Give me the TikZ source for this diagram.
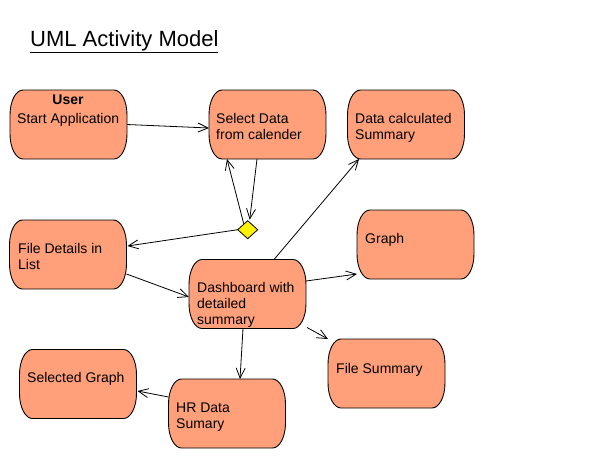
\documentclass[tikz,border=0pt]{standalone}
\usepackage{fontspec}
\setmainfont{Liberation Sans}
\usetikzlibrary{arrows.meta,calc,shapes.geometric}
\definecolor{actfill}{RGB}{255,160,122}
\newcommand\umlact[1]{%
  \draw[shp] ($(#1.north west)+(13,0)$) -- ($(#1.north east)+(-13,0)$)
    arc[start angle=90,end angle=0,x radius=13pt,y radius=25pt]
    -- ($(#1.south east)+(0,-25)$)
    arc[start angle=0,end angle=-90,x radius=13pt,y radius=25pt]
    -- ($(#1.south west)+(13,0)$)
    arc[start angle=-90,end angle=-180,x radius=13pt,y radius=25pt]
    -- ($(#1.north west)+(0,25)$)
    arc[start angle=180,end angle=90,x radius=13pt,y radius=25pt] -- cycle;}
\begin{document}
\begin{tikzpicture}[x=1pt,y=-1pt,
  box/.style={draw=none,minimum width=117pt,minimum height=69pt,inner sep=0pt,outer sep=0pt},
  shp/.style={draw=black,fill=actfill,line width=0.9pt},
  lbl/.style={anchor=base west,inner sep=0pt,align=left,font=\fontsize{14}{16}\selectfont},
  arr/.style={-{Straight Barb[length=10pt,width=9pt]},line width=0.8pt},
  dec/.style={diamond,draw=black,fill=yellow,line width=0.8pt,minimum width=20pt,minimum height=18pt,inner sep=0pt,outer sep=0pt}
]
\useasboundingbox (0,0) rectangle (589,459);
\fill[white] (0,0) rectangle (589,459);

\node[anchor=base west,inner sep=0pt,font=\fontsize{22}{26}\selectfont] (title) at (30,46) {\underline{UML Activity Model}};

\node[box] (start) at (68.5,124.5) {};
\node[box] (sel)   at (267.5,124.5) {};
\node[box] (dcs)   at (406,124.5) {};
\node[box] (graph) at (415.5,244.5) {};
\node[box] (fsum)  at (386.5,373.5) {};
\node[box] (fdl)   at (68,254.5) {};
\node[box] (dash)  at (247.5,294) {};
\node[box] (selg)  at (78,384) {};
\node[box] (hr)    at (227,413.5) {};
\node[dec] (dia) at (247.7,229.7) {};

\foreach \n in {start,sel,dcs,graph,fsum,fdl,dash,selg,hr} {\umlact{\n}}

\node[anchor=base,inner sep=0pt,font=\fontsize{14}{16}\selectfont\bfseries] (user) at (68,104) {User};
\node[lbl] (start-t) at (17,123) {Start Application};
\node[lbl] (sel-t) at (216,139) {Select Data\\from calender};
\node[lbl] (dcs-t) at (355,139) {Data calculated\\Summary};
\node[lbl] (graph-t) at (365,243) {Graph};
\node[lbl] (fdl-t) at (18,269) {File Details in\\List};
\node[lbl] (dash-t) at (197,324) {Dashboard with\\detailed\\summary};
\node[lbl] (fsum-t) at (336,373) {File Summary};
\node[lbl] (selg-t) at (27,382) {Selected Graph};
\node[lbl] (hr-t) at (176,428) {HR Data\\Sumary};

\draw[arr] (start.east) -- ($(sel.west)+(0,3.5)$);
\draw[arr] ($(sel.south)+(-10.5,0)$) -- ($(dia.north)+(2,-1)$);
\draw[arr] ($(dia.north)+(-4,3)$) -- ($(sel.south)+(-40.5,0)$);
\draw[arr] (dia.west) -- ($(fdl.east)+(1,-8.5)$);
\draw[arr] ($(fdl.east)+(0,19.5)$) -- ($(dash.west)+(0,3)$);
\draw[arr] ($(dash.north)+(26.5,0)$) -- ($(dcs.south)+(-47,0)$);
\draw[arr] ($(dash.east)+(0,-13)$) -- ($(graph.west)+(0,29.5)$);
\draw[arr] ($(dash.south east)+(1,-1)$) -- (fsum.north west);
\draw[arr] ($(dash.south)+(-4.5,0)$) -- ($(hr.north)+(13,0)$);
\draw[arr] ($(hr.west)+(0,-16.5)$) -- ($(selg.east)+(1,7)$);
\end{tikzpicture}
\end{document}
